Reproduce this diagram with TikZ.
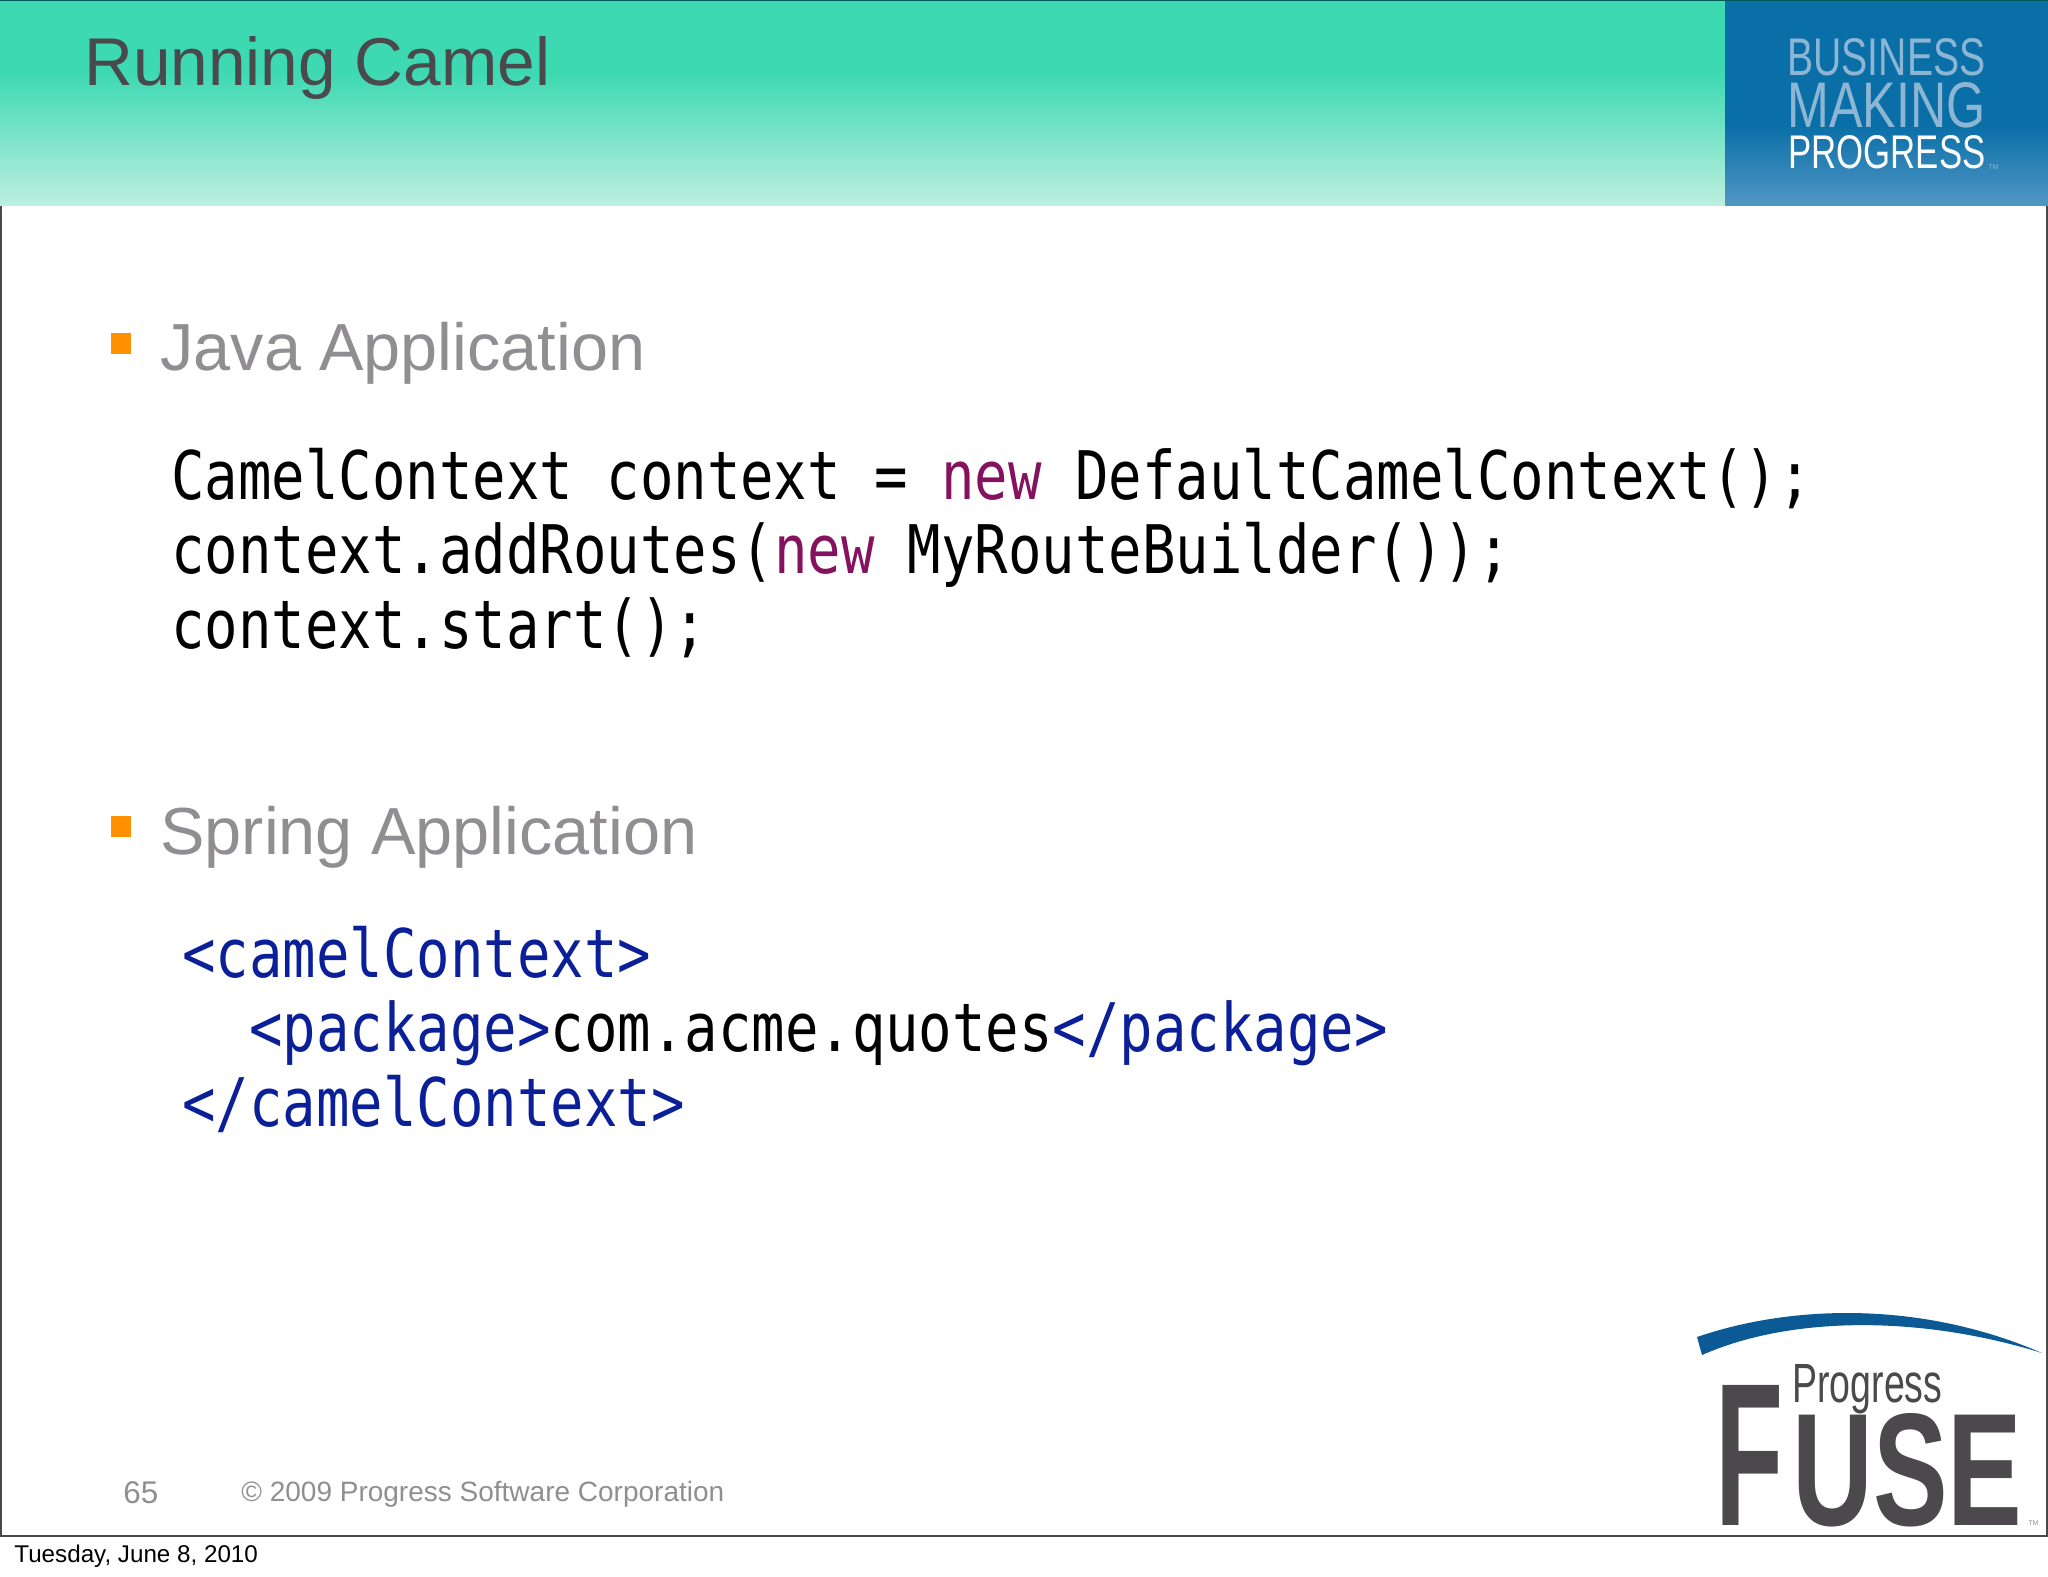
\documentclass[tikz,border=0pt]{standalone}
\usepackage{graphicx}
\usepackage{fontspec}
\setmainfont{Liberation Sans}
\newfontfamily\codefont[FakeStretch=0.83]{DejaVu Sans Mono}
\definecolor{bandteal}{HTML}{3DD9B3}
\definecolor{bandpale}{HTML}{BDEFE0}
\definecolor{bandblue}{HTML}{0A6FA7}
\definecolor{bandsky}{HTML}{5196C4}
\definecolor{slogan}{HTML}{8DB6D4}
\definecolor{titlegrey}{HTML}{4A4A4D}
\definecolor{itemgrey}{HTML}{908E92}
\definecolor{bullet}{HTML}{FF9000}
\definecolor{keyword}{HTML}{85125F}
\definecolor{markup}{HTML}{0B2098}
\definecolor{fuse}{HTML}{4B494C}
\definecolor{swoosh}{HTML}{0B5A96}
\tikzset{
  base/.style = {anchor = base west, inner sep = 0pt},
  title/.style = {base, text = titlegrey, font = \fontsize{33.8}{40}\selectfont},
  item/.style = {base, text = itemgrey, font = \fontsize{33.3}{40}\selectfont},
  code/.style = {base, text = black, font = \codefont\fontsize{33.5}{40}\selectfont},
  foot/.style = {base, text = itemgrey, font = \fontsize{14}{16}\selectfont},
  logo/.style = {base, text = fuse, font = \bfseries},
}
\begin{document}
\begin{tikzpicture}[x = 0.5pt, y = -0.5pt]
    \useasboundingbox (0, 0) rectangle (2048, 1576);
    \fill [white] (0, 0) rectangle (2048, 1576);
    \draw [fuse, line width = 1.2pt] (0.5, 0) -- (0.5, 1536) -- (2047, 1536) -- (2047, 0);

    \fill [bandteal] (0, 0) rectangle (1725, 72);
    \shade [top color = bandteal, bottom color = bandpale] (0, 72) rectangle (1725, 205);
    \fill [bandblue] (1725, 0) rectangle (2048, 125);
    \shade [top color = bandblue, bottom color = bandsky] (1725, 125) rectangle (2048, 205);
    \draw [teal!70!black, line width = 0.6pt] (0, 0.5) -- (2048, 0.5);

    \node [title] (heading) at (84, 85) {Running Camel};

    \node [base, text = slogan] (business) at (1787, 75) {\resizebox{99pt}{18.5pt}{BUSINESS}};
    \node [base, text = slogan] (making) at (1787, 127) {\resizebox{99pt}{22.5pt}{MAKING}};
    \node [base, text = white] (progress) at (1788, 168) {\resizebox{98.5pt}{16.5pt}{PROGRESS}};
    \node [base, text = slogan, font = \fontsize{3.5}{4}\selectfont] (sloganmark) at (1988, 169) {TM};

    \fill [bullet] (111, 333) rectangle (131, 354);
    \node [item] (java) at (160, 370) {Java Application};
    \node [code] (javaone) at (171, 499) {CamelContext context = {\color{keyword}new} DefaultCamelContext();};
    \node [code] (javatwo) at (171, 573) {context.addRoutes({\color{keyword}new} MyRouteBuilder());};
    \node [code] (javathree) at (171, 648) {context.start();};

    \fill [bullet] (111, 816) rectangle (131, 837);
    \node [item] (spring) at (160, 854) {Spring Application};
    \node [code, text = markup] (xmlone) at (182, 977) {<camelContext>};
    \node [code, text = markup] (xmltwo) at (249, 1051) {<package>{\color{black}com.acme.quotes}</package>};
    \node [code, text = markup] (xmlthree) at (182, 1126) {</camelContext>};

    \node [foot, font = \fontsize{15.7}{18}\selectfont] (pagenumber) at (123, 1503) {65};
    \node [foot] (copyright) at (241, 1501) {© 2009 Progress Software Corporation};
    \node [base, font = \fontsize{12.1}{14}\selectfont] (date) at (14, 1562) {Tuesday, June 8, 2010};

    \fill [swoosh] (1697, 1337) .. controls (1790, 1305) and (1920, 1300) .. (2042, 1353)
        .. controls (1920, 1315) and (1790, 1316) .. (1702, 1355) -- cycle;
    \node [logo] (fusef) at (1715, 1525) {\resizebox{34pt}{70pt}{F}};
    \node [logo] (fuseuse) at (1792, 1525) {\resizebox{115pt}{56pt}{USE}};
    \node [base, text = titlegrey] (fuseprogress) at (1792, 1402) {\resizebox{75pt}{19pt}{Progress}};
    \node [base, text = itemgrey, font = \fontsize{3.5}{4}\selectfont] (fusemark) at (2028, 1525) {TM};
\end{tikzpicture}
\end{document}
